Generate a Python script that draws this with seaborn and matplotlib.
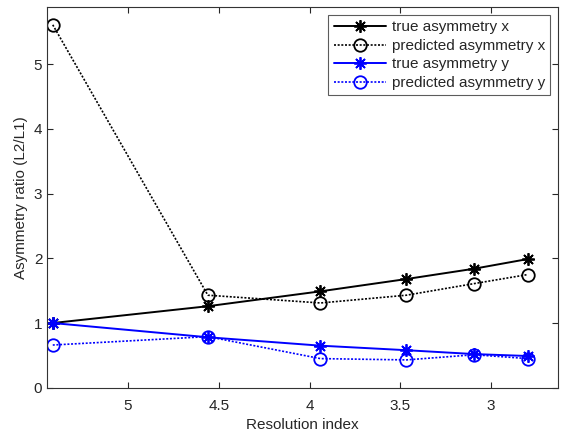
import matplotlib
matplotlib.use("Agg")
import matplotlib.pyplot as plt
import seaborn as sns
import pandas as pd

resolution = [5.414, 4.56, 3.94, 3.467, 3.093, 2.797]
true_x = [1.0, 1.26, 1.49, 1.68, 1.84, 1.99]
pred_x = [5.61, 1.43, 1.31, 1.43, 1.61, 1.75]
true_y = [1.0, 0.78, 0.65, 0.58, 0.52, 0.49]
pred_y = [0.66, 0.79, 0.45, 0.43, 0.51, 0.45]

sns.set_style("ticks")
plt.rcParams['font.family'] = ['Liberation Sans', 'DejaVu Sans']

fig = plt.figure(figsize=(5.61, 4.32), dpi=100)
ax = fig.add_axes([0.084, 0.1025, 0.9107, 0.8805])

asterisk = (8, 2, 0)
series = [
    ("true asymmetry x", true_x, "black", "-", asterisk),
    ("predicted asymmetry x", pred_x, "black", (0, (1.2, 1.0)), "o"),
    ("true asymmetry y", true_y, "blue", "-", asterisk),
    ("predicted asymmetry y", pred_y, "blue", (0, (1.2, 1.0)), "o"),
]
for label, vals, color, ls, mk in series:
    df = pd.DataFrame({"res": resolution, "val": vals})
    is_circle = (mk == "o")
    sns.lineplot(data=df, x="res", y="val", ax=ax, color=color, linestyle=ls,
                 marker=mk, markersize=9,
                 markerfacecolor="none" if is_circle else color,
                 markeredgecolor=color, markeredgewidth=1.3,
                 linewidth=1.4 if not is_circle else 1.2, label=label, sort=False)

ax.set_xlim(5.445, 2.632)
ax.set_ylim(0, 5.88)
ax.set_xticks([5, 4.5, 4, 3.5, 3])
ax.set_xticklabels(["5", "4.5", "4", "3.5", "3"])
ax.set_yticks([0, 1, 2, 3, 4, 5])
ax.tick_params(direction="in", top=True, right=True, labelsize=11, length=4)
ax.tick_params(axis="x", pad=8)
for s in ax.spines.values():
    s.set_linewidth(0.8)
    s.set_color("#333333")
ax.set_xlabel("Resolution index", fontsize=11, labelpad=4)
ax.set_ylabel("Asymmetry ratio (L2/L1)", fontsize=11)
leg = ax.legend(loc="upper right", fontsize=11, frameon=True, fancybox=False,
                edgecolor="#333333", borderpad=0.35, labelspacing=0.3,
                handlelength=3.4, handletextpad=0.4, borderaxespad=0.5)
leg.get_frame().set_linewidth(0.8)
fig.savefig("out.png", dpi=100)
